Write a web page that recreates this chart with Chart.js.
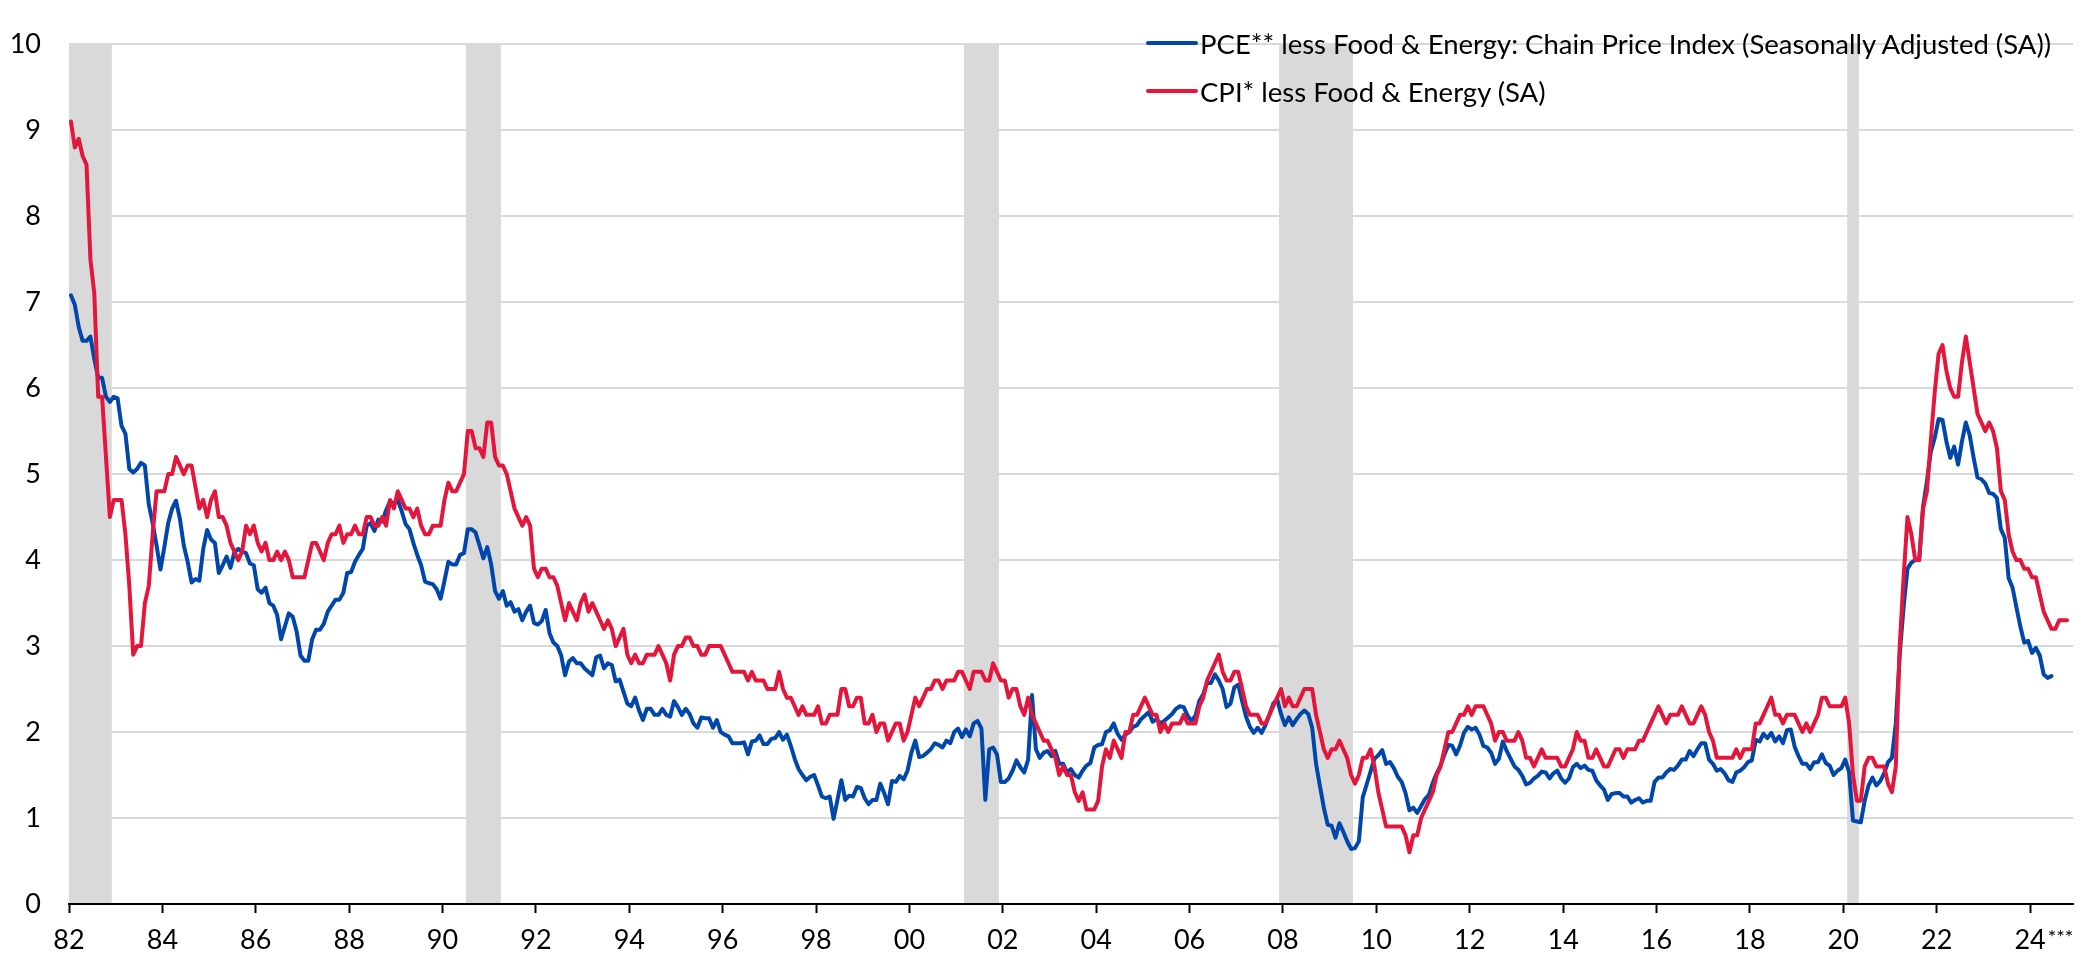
<!DOCTYPE html>
<html>
<head>
<meta charset="utf-8">
<title>Core PCE vs Core CPI</title>
<script src="https://cdn.jsdelivr.net/npm/chart.js@4.4.1/dist/chart.umd.min.js"></script>
<style>
  html, body { margin: 0; padding: 0; background: #fff; }
  #wrap { position: relative; width: 2093px; height: 954px; }
  #legend { position: absolute; left: 1146px; top: 19px; font-family: Lato, sans-serif; font-size: 27.5px; color: #000; }
  .item { display: flex; align-items: center; height: 48px; white-space: nowrap; }
  .swatch { width: 52px; height: 4px; margin-right: 2px; border-radius: 2px; }
</style>
</head>
<body>
<div id="wrap">
  <canvas id="chart" width="2093" height="954"></canvas>
  <div id="legend"></div>
</div>
<script>
// Year-over-year % change, monthly, starting 1982

const startYear = 1982;

const pceLabel = 'PCE** less Food & Energy: Chain Price Index (Seasonally Adjusted (SA))';
const cpiLabel = 'CPI* less Food & Energy (SA)';

const pceCore = [
    7.08, 6.97, 6.71, 6.55, 6.55, 6.6, 6.34, 6.12, 6.12, 5.9, 5.84, 5.9,        // 1982
    5.88, 5.56, 5.47, 5.06, 5.02, 5.06, 5.13, 5.1, 4.65, 4.43, 4.17, 3.89,      // 1983
    4.15, 4.43, 4.6, 4.69, 4.48, 4.17, 3.98, 3.74, 3.78, 3.76, 4.13, 4.35,      // 1984
    4.24, 4.2, 3.85, 3.94, 4.04, 3.91, 4.09, 4.13, 4.1, 4.08, 3.96, 3.94,       // 1985
    3.66, 3.62, 3.68, 3.5, 3.47, 3.36, 3.08, 3.23, 3.38, 3.34, 3.17, 2.89,      // 1986
    2.83, 2.83, 3.08, 3.19, 3.19, 3.26, 3.4, 3.47, 3.54, 3.54, 3.62, 3.85,      // 1987
    3.86, 3.98, 4.06, 4.13, 4.4, 4.43, 4.34, 4.47, 4.45, 4.58, 4.68, 4.66,      // 1988
    4.7, 4.57, 4.42, 4.36, 4.2, 4.06, 3.94, 3.75, 3.73, 3.72, 3.66, 3.55,       // 1989
    3.76, 3.98, 3.95, 3.95, 4.06, 4.08, 4.36, 4.36, 4.32, 4.17, 4.02, 4.15,     // 1990
    3.95, 3.64, 3.55, 3.64, 3.47, 3.51, 3.4, 3.43, 3.3, 3.4, 3.47, 3.27,        // 1991
    3.25, 3.29, 3.42, 3.15, 3.04, 3.0, 2.89, 2.66, 2.82, 2.86, 2.8, 2.8,        // 1992
    2.74, 2.7, 2.66, 2.87, 2.89, 2.74, 2.8, 2.78, 2.59, 2.61, 2.47, 2.33,       // 1993
    2.3, 2.4, 2.25, 2.14, 2.27, 2.27, 2.2, 2.2, 2.27, 2.2, 2.18, 2.36,          // 1994
    2.29, 2.2, 2.27, 2.21, 2.1, 2.05, 2.17, 2.16, 2.16, 2.05, 2.14, 2.0,        // 1995
    1.97, 1.95, 1.87, 1.87, 1.87, 1.88, 1.74, 1.89, 1.9, 1.96, 1.86, 1.86,      // 1996
    1.92, 1.93, 2.0, 1.91, 1.97, 1.84, 1.69, 1.57, 1.5, 1.44, 1.48, 1.5,        // 1997
    1.38, 1.25, 1.23, 1.25, 0.99, 1.21, 1.44, 1.21, 1.26, 1.25, 1.36, 1.35,     // 1998
    1.23, 1.16, 1.21, 1.21, 1.4, 1.29, 1.16, 1.43, 1.42, 1.49, 1.45, 1.55,      // 1999
    1.76, 1.9, 1.71, 1.72, 1.76, 1.8, 1.87, 1.85, 1.82, 1.9, 1.87, 2.0,         // 2000
    2.04, 1.94, 2.03, 1.95, 2.1, 2.13, 2.04, 1.21, 1.8, 1.82, 1.74, 1.42,       // 2001
    1.42, 1.46, 1.55, 1.67, 1.59, 1.53, 1.68, 2.43, 1.8, 1.7, 1.76, 1.78,       // 2002
    1.72, 1.78, 1.63, 1.63, 1.53, 1.57, 1.5, 1.47, 1.55, 1.61, 1.64, 1.82,      // 2003
    1.85, 1.86, 2.0, 2.02, 2.1, 1.98, 1.91, 1.97, 2.0, 2.06, 2.08, 2.15,        // 2004
    2.19, 2.23, 2.12, 2.15, 2.1, 2.13, 2.17, 2.21, 2.27, 2.3, 2.29, 2.19,       // 2005
    2.13, 2.19, 2.36, 2.44, 2.57, 2.57, 2.67, 2.6, 2.5, 2.29, 2.33, 2.52,       // 2006
    2.55, 2.36, 2.18, 2.06, 1.99, 2.05, 1.99, 2.08, 2.2, 2.33, 2.38, 2.21,      // 2007
    2.08, 2.17, 2.08, 2.15, 2.21, 2.25, 2.21, 2.05, 1.63, 1.37, 1.12, 0.92,     // 2008
    0.91, 0.77, 0.94, 0.84, 0.73, 0.64, 0.65, 0.73, 1.24, 1.39, 1.54, 1.69,     // 2009
    1.73, 1.79, 1.63, 1.65, 1.58, 1.48, 1.42, 1.29, 1.09, 1.12, 1.06, 1.14,     // 2010
    1.22, 1.27, 1.41, 1.52, 1.61, 1.74, 1.85, 1.84, 1.74, 1.84, 1.99, 2.06,     // 2011
    2.03, 2.05, 1.97, 1.84, 1.82, 1.76, 1.63, 1.69, 1.89, 1.78, 1.69, 1.6,      // 2012
    1.56, 1.49, 1.39, 1.41, 1.46, 1.49, 1.54, 1.53, 1.46, 1.52, 1.55, 1.46,     // 2013
    1.41, 1.46, 1.59, 1.63, 1.58, 1.61, 1.56, 1.55, 1.44, 1.38, 1.33, 1.21,     // 2014
    1.28, 1.29, 1.29, 1.25, 1.25, 1.18, 1.21, 1.23, 1.18, 1.2, 1.2, 1.42,       // 2015
    1.47, 1.47, 1.53, 1.57, 1.56, 1.61, 1.68, 1.68, 1.78, 1.72, 1.8, 1.87,      // 2016
    1.87, 1.68, 1.63, 1.55, 1.57, 1.52, 1.44, 1.42, 1.53, 1.55, 1.59, 1.65,     // 2017
    1.67, 1.91, 1.89, 1.98, 1.93, 1.99, 1.89, 1.95, 1.87, 2.02, 2.03, 1.83,     // 2018
    1.72, 1.63, 1.63, 1.57, 1.65, 1.65, 1.74, 1.64, 1.61, 1.5, 1.55, 1.58,      // 2019
    1.68, 1.53, 0.97, 0.96, 0.95, 1.2, 1.38, 1.47, 1.38, 1.43, 1.52, 1.65,      // 2020
    1.7, 2.1, 2.9, 3.45, 3.9, 3.97, 4.0, 4.0, 4.62, 4.92, 5.26, 5.42,           // 2021
    5.64, 5.63, 5.38, 5.19, 5.32, 5.11, 5.38, 5.6, 5.45, 5.19, 4.96, 4.94,      // 2022
    4.89, 4.78, 4.77, 4.72, 4.36, 4.26, 3.79, 3.68, 3.45, 3.23, 3.04, 3.06,     // 2023
    2.92, 2.98, 2.89, 2.67, 2.63, 2.65                                          // 2024
];

const cpiCore = [
    9.1, 8.8, 8.9, 8.7, 8.6, 7.5, 7.1, 5.9, 5.9, 5.2, 4.5, 4.7,     // 1982
    4.7, 4.7, 4.3, 3.7, 2.9, 3.0, 3.0, 3.5, 3.7, 4.3, 4.8, 4.8,     // 1983
    4.8, 5.0, 5.0, 5.2, 5.1, 5.0, 5.1, 5.1, 4.85, 4.6, 4.7, 4.5,    // 1984
    4.7, 4.8, 4.5, 4.5, 4.4, 4.2, 4.1, 4.0, 4.1, 4.4, 4.3, 4.4,     // 1985
    4.2, 4.1, 4.2, 4.0, 4.0, 4.1, 4.0, 4.1, 4.0, 3.8, 3.8, 3.8,     // 1986
    3.8, 4.0, 4.2, 4.2, 4.1, 4.0, 4.2, 4.3, 4.3, 4.4, 4.2, 4.3,     // 1987
    4.3, 4.4, 4.3, 4.3, 4.5, 4.5, 4.4, 4.4, 4.5, 4.4, 4.7, 4.6,     // 1988
    4.8, 4.7, 4.6, 4.6, 4.5, 4.6, 4.4, 4.3, 4.3, 4.4, 4.4, 4.4,     // 1989
    4.7, 4.9, 4.8, 4.8, 4.9, 5.0, 5.5, 5.5, 5.3, 5.3, 5.2, 5.6,     // 1990
    5.6, 5.2, 5.1, 5.1, 5.0, 4.8, 4.6, 4.5, 4.4, 4.5, 4.4, 3.9,     // 1991
    3.8, 3.9, 3.9, 3.8, 3.8, 3.7, 3.5, 3.3, 3.5, 3.4, 3.3, 3.5,     // 1992
    3.6, 3.4, 3.5, 3.4, 3.3, 3.2, 3.3, 3.2, 3.0, 3.1, 3.2, 2.9,     // 1993
    2.8, 2.9, 2.8, 2.8, 2.9, 2.9, 2.9, 3.0, 2.9, 2.8, 2.6, 2.9,     // 1994
    3.0, 3.0, 3.1, 3.1, 3.0, 3.0, 2.9, 2.9, 3.0, 3.0, 3.0, 3.0,     // 1995
    2.9, 2.8, 2.7, 2.7, 2.7, 2.7, 2.6, 2.7, 2.6, 2.6, 2.6, 2.5,     // 1996
    2.5, 2.5, 2.7, 2.5, 2.4, 2.4, 2.3, 2.2, 2.3, 2.2, 2.2, 2.2,     // 1997
    2.3, 2.1, 2.1, 2.2, 2.2, 2.2, 2.5, 2.5, 2.3, 2.3, 2.4, 2.4,     // 1998
    2.1, 2.1, 2.2, 2.0, 2.1, 2.1, 1.9, 2.0, 2.1, 2.1, 1.9, 2.0,     // 1999
    2.2, 2.4, 2.3, 2.4, 2.5, 2.5, 2.6, 2.6, 2.5, 2.6, 2.6, 2.6,     // 2000
    2.7, 2.7, 2.6, 2.5, 2.7, 2.7, 2.7, 2.6, 2.6, 2.8, 2.7, 2.6,     // 2001
    2.6, 2.4, 2.5, 2.5, 2.3, 2.2, 2.4, 2.2, 2.1, 2.0, 1.9, 1.9,     // 2002
    1.8, 1.7, 1.5, 1.6, 1.5, 1.5, 1.3, 1.2, 1.3, 1.1, 1.1, 1.1,     // 2003
    1.2, 1.6, 1.8, 1.7, 1.9, 1.8, 1.7, 2.0, 2.0, 2.2, 2.2, 2.3,     // 2004
    2.4, 2.3, 2.2, 2.2, 2.0, 2.1, 2.0, 2.1, 2.1, 2.1, 2.2, 2.1,     // 2005
    2.1, 2.1, 2.3, 2.4, 2.6, 2.7, 2.8, 2.9, 2.7, 2.6, 2.6, 2.7,     // 2006
    2.7, 2.5, 2.3, 2.2, 2.2, 2.2, 2.1, 2.1, 2.2, 2.3, 2.4, 2.5,     // 2007
    2.3, 2.4, 2.3, 2.3, 2.4, 2.5, 2.5, 2.5, 2.2, 2.0, 1.8, 1.7,     // 2008
    1.8, 1.8, 1.9, 1.8, 1.7, 1.5, 1.4, 1.5, 1.7, 1.7, 1.8, 1.6,     // 2009
    1.3, 1.1, 0.9, 0.9, 0.9, 0.9, 0.9, 0.8, 0.6, 0.8, 0.8, 1.0,     // 2010
    1.1, 1.2, 1.3, 1.5, 1.6, 1.8, 2.0, 2.0, 2.1, 2.2, 2.2, 2.3,     // 2011
    2.2, 2.3, 2.3, 2.3, 2.2, 2.1, 1.9, 2.0, 2.0, 1.9, 1.9, 1.9,     // 2012
    2.0, 1.9, 1.7, 1.7, 1.6, 1.7, 1.8, 1.7, 1.7, 1.7, 1.7, 1.6,     // 2013
    1.6, 1.7, 1.8, 2.0, 1.9, 1.9, 1.7, 1.7, 1.8, 1.7, 1.6, 1.6,     // 2014
    1.7, 1.8, 1.8, 1.7, 1.8, 1.8, 1.8, 1.9, 1.9, 2.0, 2.1, 2.2,     // 2015
    2.3, 2.2, 2.1, 2.2, 2.2, 2.2, 2.3, 2.2, 2.1, 2.1, 2.2, 2.3,     // 2016
    2.2, 2.0, 1.9, 1.7, 1.7, 1.7, 1.7, 1.7, 1.8, 1.7, 1.8, 1.8,     // 2017
    1.8, 2.1, 2.1, 2.2, 2.3, 2.4, 2.2, 2.2, 2.1, 2.2, 2.2, 2.2,     // 2018
    2.1, 2.0, 2.1, 2.0, 2.1, 2.2, 2.4, 2.4, 2.3, 2.3, 2.3, 2.3,     // 2019
    2.4, 2.1, 1.5, 1.2, 1.2, 1.6, 1.7, 1.7, 1.6, 1.6, 1.6, 1.4,     // 2020
    1.3, 1.6, 3.0, 3.8, 4.5, 4.3, 4.0, 4.0, 4.6, 4.8, 5.4, 5.95,    // 2021
    6.4, 6.5, 6.2, 6.0, 5.9, 5.9, 6.3, 6.6, 6.3, 6.0, 5.7, 5.6,     // 2022
    5.5, 5.6, 5.5, 5.3, 4.8, 4.7, 4.3, 4.1, 4.0, 4.0, 3.9, 3.9,     // 2023
    3.8, 3.8, 3.6, 3.4, 3.3, 3.2, 3.2, 3.3, 3.3, 3.3               // 2024
];

// NBER recessions (first and last month)
const recessionStart = ['1981-07', '1990-07', '2001-03', '2007-12', '2020-02'];
const recessionEnd = ['1982-11', '1991-03', '2001-11', '2009-06', '2020-04'];

const tickYears = [1982, 1984, 1986, 1988, 1990, 1992, 1994, 1996, 1998, 2000, 2002,
    2004, 2006, 2008, 2010, 2012, 2014, 2016, 2018, 2020, 2022, 2024];
const tickLabels = ['82', '84', '86', '88', '90', '92', '94', '96', '98', '00', '02',
    '04', '06', '08', '10', '12', '14', '16', '18', '20', '22', '24'];
const lastTickNote = '***';

const colors = {
    pce: '#0047ab',
    cpi: '#e4163b',
    shade: '#d9d9d9',
    grid: '#d9d9d9',
    text: '#000000'
};

// month string -> decimal year (start or end of the month)
function monthToYear(str, endOfMonth) {
    const [y, m] = str.split('-').map(Number);
    return y + (m - 1 + (endOfMonth ? 1 : 0)) / 12;
}

function toPoints(values) {
    return values.map((v, i) => ({ x: startYear + (i + 0.5) / 12, y: v }));
}

// Legend (html, sits on top of the plot like the original)
const legendEl = document.getElementById('legend');
[[pceLabel, colors.pce], [cpiLabel, colors.cpi]].forEach(([text, color]) => {
    const row = document.createElement('div');
    row.className = 'item';
    row.innerHTML = `<span class="swatch" style="background:${color}"></span><span></span>`;
    row.lastChild.textContent = text;
    legendEl.appendChild(row);
});

// Grey recession bars behind everything
const recessionShade = {
    id: 'recessionShade',
    beforeDraw(chart) {
        const { ctx, chartArea, scales: { x } } = chart;
        ctx.save();
        ctx.fillStyle = colors.shade;
        recessionStart.forEach((s, i) => {
            const x0 = Math.max(x.getPixelForValue(monthToYear(s, false)), chartArea.left);
            const x1 = Math.min(x.getPixelForValue(monthToYear(recessionEnd[i], true)), chartArea.right);
            if (x1 > x0) ctx.fillRect(x0, chartArea.top, x1 - x0, chartArea.bottom - chartArea.top);
        });
        ctx.restore();
    }
};

// Superscript asterisks after the last year label
const tickNote = {
    id: 'tickNote',
    afterDraw(chart) {
        const { ctx, chartArea, scales: { x } } = chart;
        const last = tickYears.length - 1;
        const px = x.getPixelForValue(tickYears[last]);
        ctx.save();
        ctx.font = '27px Lato';
        const w = ctx.measureText(tickLabels[last]).width;
        ctx.font = '20px Lato';
        ctx.fillStyle = colors.text;
        ctx.textBaseline = 'top';
        ctx.textAlign = 'left';
        ctx.fillText(lastTickNote, px + w / 2 + 2, chartArea.bottom + 24);
        ctx.restore();
    }
};

Chart.defaults.font.family = 'Lato';
Chart.defaults.font.size = 27;
Chart.defaults.color = colors.text;

new Chart(document.getElementById('chart'), {
    type: 'line',
    data: {
        datasets: [
            {
                label: pceLabel,
                data: toPoints(pceCore),
                borderColor: colors.pce,
                borderWidth: 4,
                pointRadius: 0,
                borderJoinStyle: 'round',
                borderCapStyle: 'round',
                tension: 0,
                fill: false,
                order: 1
            },
            {
                label: cpiLabel,
                data: toPoints(cpiCore),
                borderColor: colors.cpi,
                borderWidth: 4,
                pointRadius: 0,
                borderJoinStyle: 'round',
                borderCapStyle: 'round',
                tension: 0,
                fill: false,
                order: 0
            }
        ]
    },
    options: {
        responsive: false,
        animation: false,
        layout: { padding: { top: 17, right: 20, left: 0, bottom: 0 } },
        plugins: {
            legend: { display: false },
            tooltip: { enabled: false }
        },
        scales: {
            x: {
                type: 'linear',
                min: 1982,
                max: 2024.92,
                afterBuildTicks: (axis) => { axis.ticks = tickYears.map(v => ({ value: v })); },
                afterFit: (axis) => { axis.height = 50; },
                ticks: {
                    autoSkip: false,
                    maxRotation: 0,
                    padding: 11,
                    callback: (value) => tickLabels[tickYears.indexOf(value)]
                },
                grid: { drawOnChartArea: false, drawTicks: true, tickLength: 9, tickWidth: 2, tickColor: '#000' },
                border: { display: true, color: '#000', width: 2 }
            },
            y: {
                min: 0,
                max: 10,
                afterFit: (axis) => { axis.width = 69; },
                ticks: { stepSize: 1, padding: 28 },
                grid: { color: colors.grid, lineWidth: 2, drawTicks: false },
                border: { display: false }
            }
        }
    },
    plugins: [recessionShade, tickNote]
});
</script>
</body>
</html>
